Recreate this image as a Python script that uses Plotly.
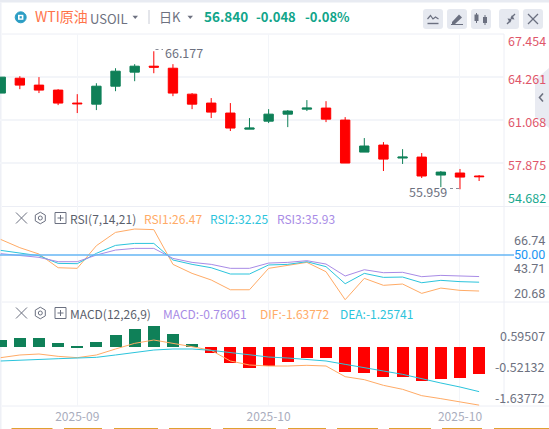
import plotly.graph_objects as go

# ---------- data ----------
idx = list(range(26))
opens  = [63.08,64.18,63.67,63.30,62.34,62.26,63.59,64.63,65.07,64.92,63.00,62.34,61.60,60.41,61.00,61.52,61.89,61.97,61.08,58.71,59.23,58.27,58.34,57.01,57.16,56.94]
highs  = [64.26,64.33,64.26,63.37,63.00,63.81,64.92,65.22,66.177,65.22,63.08,62.71,62.34,61.23,61.89,61.82,62.56,62.48,61.30,59.75,59.45,58.93,58.64,57.31,57.46,57.01]
lows   = [63.08,63.37,63.08,62.19,61.60,61.82,63.22,63.96,64.55,62.85,61.89,61.23,60.27,60.41,60.86,60.56,61.75,60.93,57.90,58.71,57.31,57.83,56.79,56.12,55.959,56.57]
closes = [64.26,63.67,63.30,62.34,62.29,63.59,64.70,65.07,65.00,63.08,62.26,61.67,60.49,60.49,61.52,61.75,61.97,61.15,57.90,59.16,58.19,58.34,56.94,57.23,56.86,56.89]

rsi1 = [60.2,54.8,50.65,41.7,41.3,56.1,64.8,67.0,66.6,43.9,38.0,33.7,27.3,27.3,41.3,43.5,45.2,39.1,20.8,34.75,30.2,31.05,24.95,28.4,26.9,26.47]
rsi2 = [53.05,51.1,49.55,44.55,44.35,51.1,56.3,57.6,57.6,46.75,43.9,41.7,37.6,37.6,43.5,43.9,45.65,42.4,31.25,38.0,35.4,35.6,31.9,33.45,32.6,32.25]
rsi3 = [50.9,49.55,48.5,45.65,45.65,50.0,53.25,54.35,54.35,47.8,45.2,43.9,41.3,41.3,44.75,45.2,46.3,44.1,36.3,40.4,38.45,38.7,35.85,36.7,36.3,35.93]

macd = [0.197,0.254,0.254,0.113,0.028,0.141,0.338,0.507,0.592,0.366,0.085,-0.169,-0.451,-0.592,-0.526,-0.423,-0.31,-0.31,-0.704,-0.732,-0.845,-0.845,-0.958,-0.901,-0.873,-0.76061]
dif  = [-0.30,-0.225,-0.197,-0.263,-0.30,-0.225,-0.056,0.103,0.197,0.113,0.009,-0.094,-0.394,-0.507,-0.535,-0.535,-0.516,-0.535,-0.836,-0.92,-1.08,-1.192,-1.371,-1.455,-1.549,-1.63772]
dea  = [-0.394,-0.366,-0.338,-0.329,-0.31,-0.291,-0.225,-0.16,-0.085,-0.056,-0.056,-0.094,-0.16,-0.216,-0.282,-0.31,-0.347,-0.394,-0.488,-0.573,-0.676,-0.77,-0.901,-1.014,-1.127,-1.25741]

price_ticks = [64.261, 61.068, 57.875]
x_tick_idx = [4, 14, 24]
x_tick_labels = ["2025-09", "2025-10", "2025-10"]

# ---------- styles ----------
W, H = 549, 429
FONT = "Noto Sans CJK SC, Noto Sans, sans-serif"
GREEN, RED = "#0f8058", "#ff0000"
ORANGE, CYAN, PURPLE = "#ffab66", "#2bc4dc", "#a88be6"
GRID, SEP = "#f3f5f9", "#eceef5"
GRAY, ICON = "#6d7180", "#6b7080"

def px(x): return x / W
def py(y): return 1 - y / H
def dom(top, bottom): return [py(bottom), py(top)]

fig = go.Figure()
fig.add_trace(go.Candlestick(
    x=idx, open=opens, high=highs, low=lows, close=closes, yaxis="y", xaxis="x",
    increasing=dict(line=dict(color=GREEN, width=1), fillcolor=GREEN),
    decreasing=dict(line=dict(color=RED, width=1), fillcolor=RED),
    whiskerwidth=0, showlegend=False, hoverinfo="skip"))
for vals, c in ((rsi1, ORANGE), (rsi2, CYAN), (rsi3, PURPLE)):
    fig.add_trace(go.Scatter(x=idx, y=vals, mode="lines", line=dict(color=c, width=1),
                             yaxis="y2", xaxis="x", showlegend=False, hoverinfo="skip"))
fig.add_trace(go.Bar(x=idx, y=macd, width=0.63, marker=dict(color=[GREEN if v > 0 else RED for v in macd], line_width=0),
                     yaxis="y3", xaxis="x", showlegend=False, hoverinfo="skip"))
for vals, c in ((dif, ORANGE), (dea, CYAN)):
    fig.add_trace(go.Scatter(x=idx, y=vals, mode="lines", line=dict(color=c, width=1),
                             yaxis="y3", xaxis="x", showlegend=False, hoverinfo="skip"))

shapes, ann = [], []
def rect(x0, y0, x1, y1, fill, line=None, lw=0, layer="below"):
    shapes.append(dict(type="rect", xref="paper", yref="paper", x0=px(x0), x1=px(x1), y0=py(y1), y1=py(y0),
                       fillcolor=fill, line=dict(color=line or fill, width=lw), layer=layer))
def line(x0, y0, x1, y1, c, lw=1, layer="above", dash="solid"):
    shapes.append(dict(type="line", xref="paper", yref="paper", x0=px(x0), x1=px(x1), y0=py(y0), y1=py(y1),
                       line=dict(color=c, width=lw, dash=dash), layer=layer))
def poly(pts, fill=None, c=None, lw=1, close=True, layer="above"):
    d = "M " + " L ".join(f"{px(a):.5f},{py(b):.5f}" for a, b in pts) + (" Z" if close else "")
    shapes.append(dict(type="path", xref="paper", yref="paper", path=d, fillcolor=fill or "rgba(0,0,0,0)",
                       line=dict(color=c or "rgba(0,0,0,0)", width=lw), layer=layer))
def circle(cx, cy, r, fill=None, c=None, lw=1):
    shapes.append(dict(type="circle", xref="paper", yref="paper", x0=px(cx-r), x1=px(cx+r), y0=py(cy+r), y1=py(cy-r),
                       fillcolor=fill or "rgba(0,0,0,0)", line=dict(color=c or "rgba(0,0,0,0)", width=lw), layer="above"))
def text(x, y, s, c, size=12, anchor="left", bold=False, family=FONT):
    ann.append(dict(xref="paper", yref="paper", x=px(x), y=py(y), text=f"<b>{s}</b>" if bold else s, showarrow=False,
                    xanchor=anchor, yanchor="middle", font=dict(family=family, size=size, color=c), borderpad=0, borderwidth=0))

# chrome
rect(0, 0, 549, 2.5, "#e8ebf2")
rect(0, 2.5, 1.5, 429, "#eef0f6")
line(2, 34, 504, 34, SEP, layer="below")
line(504, 34, 504, 406, SEP, layer="below")
line(2, 206.5, 549, 206.5, SEP, layer="below")
line(2, 302, 549, 302, SEP, layer="below")
line(2, 406, 549, 406, SEP, layer="below")
# 50 line of the RSI panel
shapes.append(dict(type="line", xref="paper", yref="y2", x0=0, x1=px(514), y0=50, y1=50,
                   line=dict(color="#66b6f4", width=1.5), layer="above"))

# header
circle(20.7, 17.3, 5.5, fill="#2b9dc4", c="#2b9dc4")
rect(18, 14.8, 23.4, 19.8, "#ffffff", layer="above")
rect(19.6, 16.2, 21.8, 18.4, "#2b9dc4", layer="above")
text(35, 16.5, "WTI原油", "#ff7349", 14)
text(90, 18, "USOIL", GRAY, 13)
poly([(132.5, 15.8), (138, 15.8), (135.2, 19)], fill=GRAY)
line(149, 10, 149, 24, "#c9ccd6")
text(159, 16.5, "日K", GRAY, 13)
poly([(187.5, 15.8), (193, 15.8), (190.2, 19)], fill=GRAY)
text(204, 16.5, "56.840", "#11a58a", 13.5, bold=True)
text(255.5, 16.5, "-0.048", "#11a58a", 13, bold=True)
text(305, 16.5, "-0.08%", "#11a58a", 13, bold=True)

def button(x0):
    y0, y1, r = 9, 29, 3
    x1 = x0 + 20
    d = (f"M {px(x0+r)},{py(y0)} L {px(x1-r)},{py(y0)} Q {px(x1)},{py(y0)} {px(x1)},{py(y0+r)} "
         f"L {px(x1)},{py(y1-r)} Q {px(x1)},{py(y1)} {px(x1-r)},{py(y1)} L {px(x0+r)},{py(y1)} "
         f"Q {px(x0)},{py(y1)} {px(x0)},{py(y1-r)} L {px(x0)},{py(y0+r)} Q {px(x0)},{py(y0)} {px(x0+r)},{py(y0)} Z")
    shapes.append(dict(type="path", xref="paper", yref="paper", path=d, fillcolor="#e6e9f0",
                       line=dict(color="#e6e9f0", width=0), layer="below"))
for bx in (423, 447, 471, 499, 523):
    button(bx)
# button glyphs
poly([(427.5, 19), (430.5, 15.5), (433, 19), (435.5, 17), (438.5, 19)], c=ICON, lw=1.2, close=False)
line(427.5, 23.5, 438.5, 23.5, ICON, 1.4)
poly([(452, 22), (459, 14.5), (462, 17.5), (455, 24), (452, 24)], fill=ICON)
line(451, 24.5, 463, 24.5, ICON, 1)
for cx, t, b, wt, wb in ((476.5, 13, 23, 14.5, 21), (485, 15, 25, 17, 23)):
    line(cx, t, cx, b, ICON, 1)
    rect(cx-2, wt, cx+2, wb, ICON, layer="above")
poly([(507, 24), (511, 20)], c=ICON, lw=1.3, close=False)
poly([(510, 23), (511.5, 19), (507.5, 18.5)], fill=ICON)
poly([(515, 14), (511, 18)], c=ICON, lw=1.3, close=False)
poly([(512, 15), (510.5, 19), (514.5, 19.5)], fill=ICON)
poly([(528, 14), (538, 24)], c=ICON, lw=1.2, close=False)
poly([(538, 14), (528, 24)], c=ICON, lw=1.2, close=False)

# side tab
poly([(535, 80), (549, 68), (549, 128), (535, 117)], fill="#e9ebf2")
poly([(543, 93.5), (539.5, 97.5), (543, 101.5)], c="#6d7180", lw=1.6, close=False)

# price axis labels
for y, s, c in ((41, "67.454", "#e0566a"), (78, "64.261", "#e0566a"), (121, "61.068", "#e0566a"),
                (165, "57.875", "#e0566a"), (197, "54.682", "#18a88f")):
    text(546, y, s, c, 12.5, "right")
# rsi labels (compact font so the close rows keep apart)
for y, s, c in ((240, "66.74", GRAY), (254, "50.00", "#2196f3"), (268, "43.71", GRAY), (293.5, "20.68", GRAY)):
    text(545, y, s, c, 12.5, "right", family="Roboto")
# macd labels
for y, s in ((335.5, "0.59507"), (366.5, "-0.52132"), (397.5, "-1.63772")):
    text(545, y, s, GRAY, 12.5, "right")

# panel titles
def panel_icons(y):
    poly([(16, y-5.5), (27, y+5.5)], c=ICON, lw=1, close=False)
    poly([(27, y-5.5), (16, y+5.5)], c=ICON, lw=1, close=False)
    poly([(40.3, y-5.8), (45.3, y-2.9), (45.3, y+2.9), (40.3, y+5.8), (35.3, y+2.9), (35.3, y-2.9)], c=ICON, lw=1)
    circle(40.3, y, 2, c=ICON)
    rect(55, y-5.5, 66, y+5.5, "rgba(0,0,0,0)", line=ICON, lw=1, layer="above")
    line(57.5, y, 63.5, y, ICON)
    line(60.5, y-3, 60.5, y+3, ICON)
panel_icons(218)
panel_icons(313)
text(69.5, 218, "RSI(7,14,21)", "#5b5f6c", 12)
text(143.5, 218, "RSI1:26.47", ORANGE, 12)
text(210, 218, "RSI2:32.25", CYAN, 12)
text(276.5, 218, "RSI3:35.93", PURPLE, 12)
text(69.5, 313, "MACD(12,26,9)", "#5b5f6c", 12)
text(163, 313, "MACD:-0.76061", PURPLE, 12)
text(260, 313, "DIF:-1.63772", ORANGE, 12)
text(340, 313, "DEA:-1.25741", CYAN, 12)

# high / low marks
text(165, 52.5, "66.177", GRAY, 12.5)
text(447, 191, "55.959", GRAY, 12.5, "right")
line(155.5, 49.5, 163, 49.5, "#8a8e9a", 1, dash="dot")
line(450, 188.5, 460, 188.5, "#8a8e9a", 1, dash="dot")

# cut-off tabs along the bottom edge
for x0, x1 in ((11.5, 52.5), (64, 102), (114, 158), (169, 211), (223, 276), (288, 326), (337, 378), (389, 431), (442, 482), (494, 549)):
    rect(x0, 428, x1, 429, "#e0a030")

axis_common = dict(showline=False, zeroline=False, showticklabels=False, ticks="", side="right", anchor="x")
fig.update_layout(
    width=W, height=H, margin=dict(l=0, r=0, t=0, b=0), paper_bgcolor="white", plot_bgcolor="white",
    bargap=0, showlegend=False, shapes=shapes, annotations=ann, font=dict(family=FONT),
    xaxis=dict(domain=[0, px(504)], range=[-0.037, 26.3], rangeslider=dict(visible=False), anchor="y3",
               tickmode="array", tickvals=x_tick_idx, ticktext=x_tick_labels, showgrid=True, gridcolor=GRID, gridwidth=1,
               zeroline=False, showline=False, ticks="outside", ticklen=0, tickcolor="white",
               tickfont=dict(family=FONT, size=12, color="#a9adbd")),
    yaxis=dict(domain=dom(34, 206.5), range=[54.682, 67.454], tickmode="array", tickvals=price_ticks,
               showgrid=True, gridcolor=GRID, gridwidth=1.5, **axis_common),
    yaxis2=dict(domain=dom(207, 302), range=[19.3, 81.4], showgrid=False, **axis_common),
    yaxis3=dict(domain=dom(302, 406), range=[-1.662, 1.268], showgrid=False, **axis_common),
)

fig.write_html("out.html", config=dict(displayModeBar=False),
               post_script="document.body.style.margin='0';document.body.style.overflow='hidden';")
